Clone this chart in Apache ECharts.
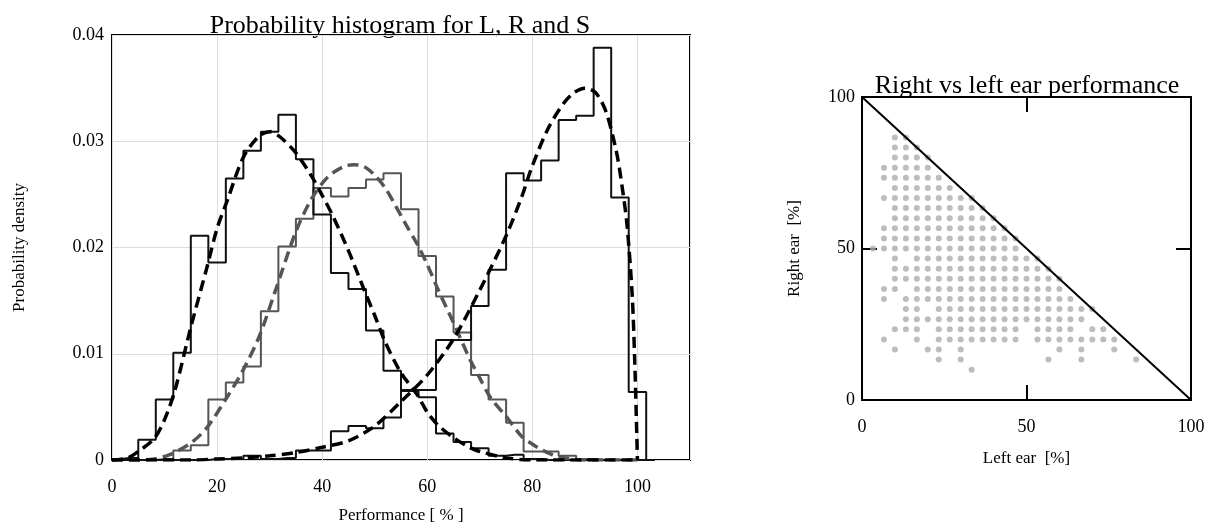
<!DOCTYPE html>
<html>
<head>
<meta charset="utf-8">
<script src="https://cdn.jsdelivr.net/npm/echarts@6/dist/echarts.min.js"></script>
<style>
html,body{margin:0;padding:0;background:#fff;}
#chart{width:1216px;height:524px;}
</style>
</head>
<body>
<div id="chart"></div>
<script>
// ---------- Left panel: probability histograms ----------
const binCenters = [0, 3.33, 6.67, 10, 13.33, 16.67, 20, 23.33, 26.67, 30, 33.33, 36.67, 40, 43.33, 46.67, 50, 53.33, 56.67, 60, 63.33, 66.67, 70, 73.33, 76.67, 80, 83.33, 86.67, 90, 93.33, 96.67, 100, 103.33];
const histL = [0.0001,0.0002,0.0019,0.0057,0.0101,0.0211,0.0186,0.0265,0.0291,0.0309,0.0325,0.0283,0.0231,0.0176,0.0161,0.0122,0.0084,0.0065,0.0059,0.0025,0.0017,0.0011,0.0004,0.0005,0.0001,0,0,0,0,0,0,0];
const histR = [0,0,0,0.0001,0.0009,0.0014,0.0057,0.0073,0.0088,0.014,0.0201,0.0227,0.0256,0.0248,0.0256,0.0264,0.027,0.0236,0.0192,0.0154,0.012,0.008,0.0057,0.0035,0.0008,0.0008,0.0004,0.0001,0,0,0,0];
const histS = [0,0,0,0,0,0,0.0001,0.0001,0.0004,0.0001,0.0002,0.0009,0.0009,0.0027,0.0032,0.003,0.004,0.0066,0.0066,0.0113,0.0113,0.0145,0.0179,0.027,0.0263,0.0282,0.032,0.0324,0.0388,0.0247,0.0064,0];

const fitL = [[0,0],[3,0.0002],[5,0.0008],[8,0.002],[10,0.0038],[12,0.0066],[15,0.0125],[18,0.018],[20,0.0218],[22,0.0245],[25,0.0285],[28,0.0305],[30,0.0309],[32,0.0304],[35,0.0289],[38,0.0267],[40,0.0249],[42,0.023],[45,0.0197],[48,0.016],[50,0.0136],[52,0.0111],[55,0.0082],[58,0.0062],[60,0.0045],[62,0.0033],[65,0.0021],[68,0.0012],[70,0.0008],[75,0.0002],[80,0],[100,0]];
const fitR = [[0,0],[5,0],[8,0.0001],[11,0.0005],[15,0.0016],[18,0.003],[22,0.006],[25,0.0085],[28,0.0116],[31,0.0158],[35,0.0215],[38,0.0246],[41,0.0266],[44,0.0276],[46,0.0278],[48,0.0276],[50,0.0268],[52,0.0256],[54,0.0239],[56,0.0221],[58,0.0204],[60,0.0184],[62,0.0161],[65,0.0129],[68,0.0096],[70,0.0077],[72,0.0059],[75,0.0041],[78,0.0022],[80,0.0015],[82,0.0009],[85,0.0003],[90,0],[100,0]];
const fitS = [[0,0],[15,0],[20,0.0001],[25,0.0002],[30,0.0004],[35,0.0007],[40,0.0012],[45,0.0018],[50,0.0032],[55,0.0055],[60,0.008],[65,0.0114],[70,0.016],[75,0.0211],[78,0.0248],[80,0.0277],[83,0.0312],[86,0.0336],[88,0.0346],[90,0.035],[92,0.0346],[94,0.0328],[96,0.029],[97,0.026],[98,0.0222],[99,0.0155],[99.5,0.009],[100,0]];

// ---------- Right panel: right vs left ear ----------
const rightEar = [86.67, 83.33, 80, 76.67, 73.33, 70, 66.67, 63.33, 60, 56.67, 53.33, 50, 46.67, 43.33, 40, 36.67, 33.33, 30, 26.67, 23.33, 20, 16.67, 13.33, 10];
const leftEarByRow = [
  [10, 13.33],
  [10, 13.33, 16.67],
  [10, 13.33, 16.67, 20],
  [6.67, 10, 13.33, 16.67, 20],
  [6.67, 10, 13.33, 16.67, 20, 23.33],
  [10, 13.33, 16.67, 20, 23.33, 26.67],
  [6.67, 10, 13.33, 16.67, 20, 23.33, 26.67, 30, 33.33],
  [10, 13.33, 16.67, 20, 23.33, 26.67, 30, 33.33, 36.67],
  [10, 13.33, 16.67, 20, 23.33, 26.67, 30, 33.33, 36.67, 40],
  [6.67, 10, 13.33, 16.67, 20, 23.33, 26.67, 30, 33.33, 36.67, 40, 43.33],
  [6.67, 10, 13.33, 16.67, 20, 23.33, 26.67, 30, 33.33, 36.67, 40, 43.33, 46.67],
  [3.33, 6.67, 10, 13.33, 16.67, 20, 23.33, 26.67, 30, 33.33, 36.67, 40, 43.33, 46.67],
  [10, 16.67, 20, 23.33, 26.67, 30, 33.33, 36.67, 40, 43.33, 46.67, 50, 53.33],
  [10, 13.33, 16.67, 20, 23.33, 26.67, 30, 33.33, 36.67, 40, 43.33, 46.67, 50, 53.33, 56.67],
  [10, 13.33, 16.67, 20, 23.33, 26.67, 30, 33.33, 36.67, 40, 43.33, 46.67, 50, 53.33, 56.67, 60],
  [6.67, 10, 16.67, 20, 23.33, 26.67, 30, 33.33, 36.67, 40, 43.33, 46.67, 50, 53.33, 56.67, 60],
  [6.67, 13.33, 16.67, 20, 23.33, 26.67, 30, 33.33, 36.67, 40, 43.33, 46.67, 50, 53.33, 56.67, 60, 63.33],
  [13.33, 16.67, 23.33, 26.67, 30, 33.33, 36.67, 40, 43.33, 46.67, 50, 53.33, 56.67, 60, 63.33, 66.67, 70],
  [13.33, 16.67, 20, 23.33, 26.67, 30, 33.33, 36.67, 40, 43.33, 46.67, 50, 53.33, 56.67, 60, 63.33, 66.67],
  [10, 13.33, 16.67, 23.33, 26.67, 30, 33.33, 36.67, 40, 43.33, 46.67, 53.33, 56.67, 60, 63.33, 70, 73.33],
  [6.67, 16.67, 23.33, 26.67, 30, 33.33, 36.67, 40, 43.33, 46.67, 53.33, 56.67, 60, 63.33, 66.67, 70, 73.33, 76.67],
  [10, 20, 23.33, 30, 60, 66.67, 76.67],
  [23.33, 30, 56.67, 66.67, 83.33],
  [33.33]
];
const diagonal = [[0, 100], [100, 0]];

// ---------- Build ----------
const zip = (xs, ys) => xs.map((x, i) => [x, ys[i]]);
const scatterPts = [];
rightEar.forEach((r, i) => leftEarByRow[i].forEach(l => scatterPts.push([l, r])));

const serif = 'Liberation Serif, Times New Roman, serif';
const txt = { fontFamily: serif, color: '#000' };

const chart = echarts.init(document.getElementById('chart'), null, { renderer: 'canvas' });
const histLine = (data, color, z) => ({
  type: 'line', xAxisIndex: 0, yAxisIndex: 0, data, step: 'middle', symbol: 'none',
  lineStyle: { color, width: 2 }, z, animation: false
});
const fitLine = (data, color, z) => ({
  type: 'line', xAxisIndex: 0, yAxisIndex: 0, data, smooth: 0.3, symbol: 'none',
  lineStyle: { color, width: 3.5, type: [11, 6] }, z, animation: false
});
const frameTick = { show: true, inside: true, length: 15, lineStyle: { color: '#000', width: 2 } };

chart.setOption({
  animation: false,
  backgroundColor: '#fff',
  graphic: [
    { type: 'text', x: 400, y: 39, style: { text: 'Probability histogram for L, R and S', font: '26px ' + serif, fill: '#000', textAlign: 'center', textVerticalAlign: 'bottom' } },
    { type: 'text', x: 1027, y: 99, style: { text: 'Right vs left ear performance', font: '26px ' + serif, fill: '#000', textAlign: 'center', textVerticalAlign: 'bottom' } }
  ],
  grid: [
    { left: 112, top: 35, width: 578, height: 425, outerBoundsMode: 'none', containLabel: false,
      show: true, borderColor: '#000', borderWidth: 2, backgroundColor: 'transparent' },
    { left: 862, top: 97, width: 329, height: 303, outerBoundsMode: 'none', containLabel: false,
      show: true, borderColor: '#000', borderWidth: 2, backgroundColor: 'transparent' }
  ],
  xAxis: [
    { gridIndex: 0, type: 'value', min: 0, max: 110, interval: 20,
      axisLine: { show: false }, axisTick: { show: false },
      splitLine: { show: true, lineStyle: { color: '#dcdcdc', width: 1 } },
      axisLabel: { ...txt, fontSize: 18, margin: 18, showMaxLabel: false },
      name: 'Performance [ % ]', nameLocation: 'middle', nameGap: 47,
      nameTextStyle: { ...txt, fontSize: 17 } },
    { gridIndex: 1, type: 'value', min: 0, max: 100, interval: 50,
      axisLine: { show: false, onZero: false }, axisTick: frameTick,
      splitLine: { show: false },
      axisLabel: { ...txt, fontSize: 18, margin: 18 },
      name: 'Left ear  [%]', nameLocation: 'middle', nameGap: 50,
      nameTextStyle: { ...txt, fontSize: 17 } },
    { gridIndex: 1, type: 'value', position: 'top', min: 0, max: 100, interval: 50,
      axisLine: { show: false, onZero: false }, axisTick: frameTick,
      splitLine: { show: false }, axisLabel: { show: false } }
  ],
  yAxis: [
    { gridIndex: 0, type: 'value', min: 0, max: 0.04, interval: 0.01,
      axisLine: { show: false }, axisTick: { show: false },
      splitLine: { show: true, lineStyle: { color: '#dcdcdc', width: 1 } },
      axisLabel: { ...txt, fontSize: 18, margin: 8 },
      name: 'Probability density', nameLocation: 'middle', nameGap: 84,
      nameTextStyle: { ...txt, fontSize: 17 } },
    { gridIndex: 1, type: 'value', position: 'left', min: 0, max: 100, interval: 50,
      axisLine: { show: false, onZero: false }, axisTick: frameTick,
      splitLine: { show: false },
      axisLabel: { ...txt, fontSize: 18, margin: 7 },
      name: 'Right ear  [%]', nameLocation: 'middle', nameGap: 59,
      nameTextStyle: { ...txt, fontSize: 17 } },
    { gridIndex: 1, type: 'value', position: 'right', min: 0, max: 100, interval: 50,
      axisLine: { show: false, onZero: false }, axisTick: frameTick,
      splitLine: { show: false }, axisLabel: { show: false } }
  ],
  series: [
    histLine(zip(binCenters, histR), '#555555', 2),
    histLine(zip(binCenters, histL), '#111111', 3),
    histLine(zip(binCenters, histS), '#111111', 3),
    fitLine(fitR, '#555555', 4),
    fitLine(fitL, '#000000', 5),
    fitLine(fitS, '#000000', 5),
    { type: 'scatter', xAxisIndex: 1, yAxisIndex: 1, data: scatterPts, symbolSize: 6,
      itemStyle: { color: '#adadad' }, z: 2, animation: false },
    { type: 'line', xAxisIndex: 1, yAxisIndex: 1, data: diagonal, symbol: 'none',
      lineStyle: { color: '#000', width: 2 }, z: 3, animation: false }
  ]
});
</script>
</body>
</html>
